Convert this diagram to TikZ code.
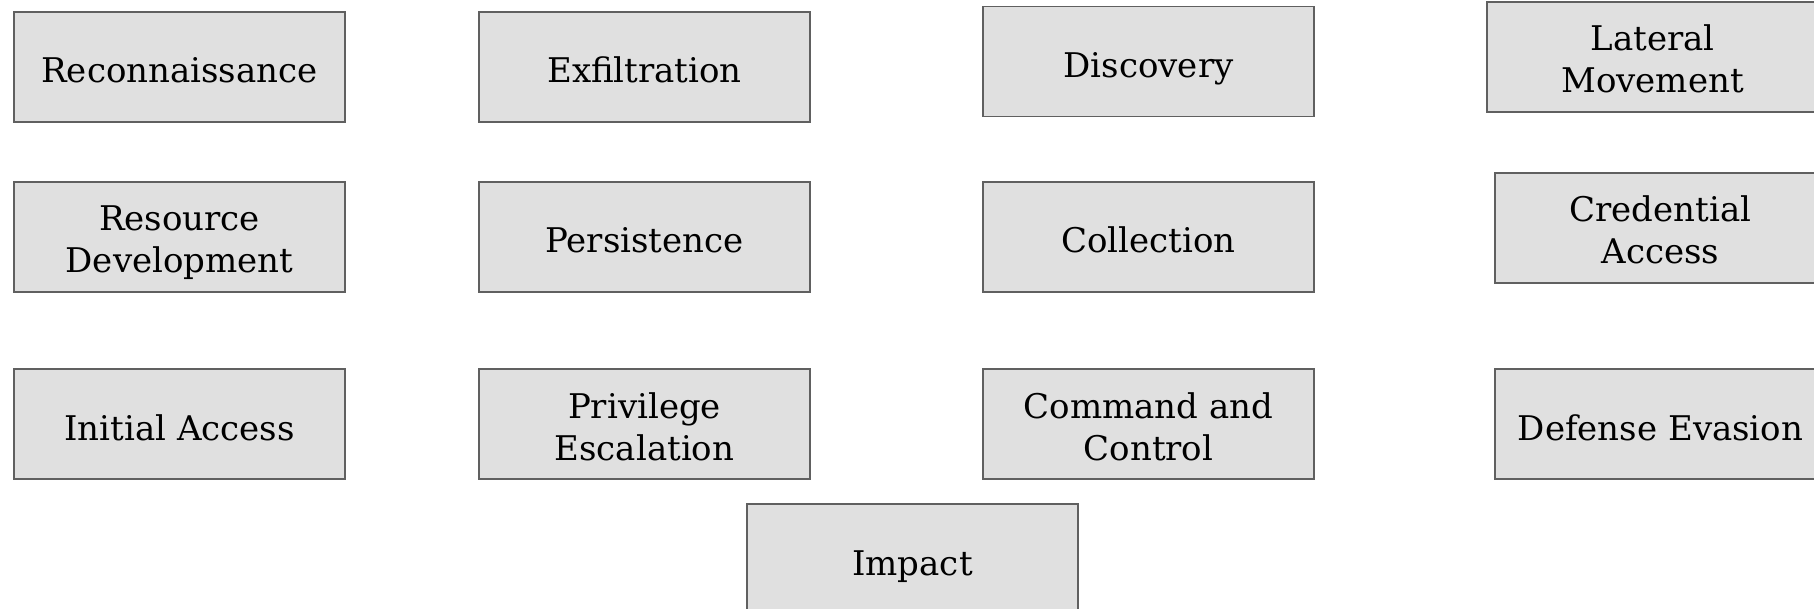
\documentclass[tikz,border=0pt]{standalone}
\usepackage{fontspec}
\setmainfont{DejaVu Serif}
\definecolor{boxfill}{RGB}{224,224,224}
\definecolor{boxline}{RGB}{96,96,96}
\begin{document}
\begin{tikzpicture}[x=1pt,y=-1pt,
  tactic/.style={draw=boxline, fill=boxfill, line width=1.5pt,
    minimum width=331pt, minimum height=110pt, inner sep=0pt,
    align=center, font=\fontsize{34}{42}\selectfont, text=black},
  oneline/.style={tactic, text height=32pt, text depth=0pt},
  twoline/.style={tactic, text height=72pt, text depth=0pt}]
\useasboundingbox (0,0) rectangle (1814,609);
\node[oneline] (recon) at (179.5,67) {Reconnaissance};
\node[oneline] (exfil) at (644.5,67) {Exfiltration};
\node[oneline] (disc) at (1148.5,61.5) {Discovery};
\node[twoline] (lat) at (1652.5,57) {Lateral\\Movement};
\node[twoline] (res) at (179.5,237) {Resource\\Development};
\node[oneline] (pers) at (644.5,237) {Persistence};
\node[oneline] (coll) at (1148.5,237) {Collection};
\node[twoline] (cred) at (1660.5,228) {Credential\\Access};
\node[oneline] (init) at (179.5,424) {Initial Access};
\node[twoline] (priv) at (644.5,424) {Privilege\\Escalation};
\node[twoline] (c2) at (1148.5,424) {Command and\\Control};
\node[oneline] (def) at (1660.5,424) {Defense Evasion};
\node[oneline] (imp) at (912.5,559) {Impact};
\end{tikzpicture}
\end{document}
